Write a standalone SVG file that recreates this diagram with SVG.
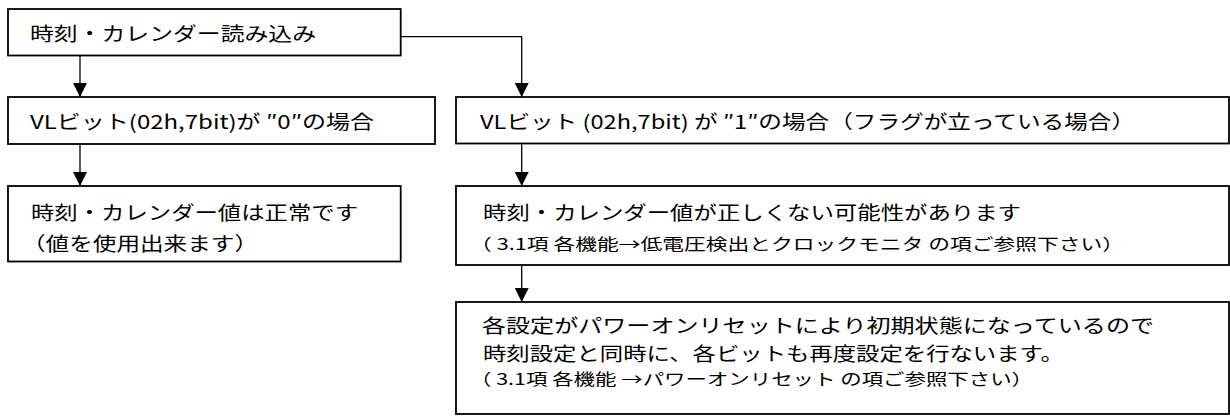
<svg xmlns="http://www.w3.org/2000/svg" width="1230" height="416" viewBox="0 0 1230 416">
<style>
.box{fill:#fff;stroke:#000;stroke-width:1.8}
.t{font-family:"Noto Sans CJK JP","Noto Sans",sans-serif;font-size:19px;fill:#000;dominant-baseline:central}
.s{font-family:"Noto Sans CJK JP","Noto Sans",sans-serif;font-size:16px;fill:#000;dominant-baseline:central}
.ln{fill:none;stroke:#000;stroke-width:1.3}
</style>
<defs>
<marker id="ah" viewBox="0 0 14 14" refX="14" refY="7" markerWidth="14" markerHeight="14" markerUnits="userSpaceOnUse" orient="auto">
<path d="M0,0 L14,7 L0,14 Z" fill="#000"/>
</marker>
</defs>
<g id="connectors">
<path class="ln" d="M80,55.5 V97" marker-end="url(#ah)"/>
<path class="ln" d="M400.7,36.7 H521.7 V97" marker-end="url(#ah)"/>
<path class="ln" d="M80,144 V186" marker-end="url(#ah)"/>
<path class="ln" d="M521.7,143.5 V186" marker-end="url(#ah)"/>
<path class="ln" d="M521.7,265 V302" marker-end="url(#ah)"/>
</g>
<g id="read">
<rect class="box" x="8" y="9" width="392.7" height="46.5"/>
<text class="t" x="30" y="32" textLength="286" lengthAdjust="spacingAndGlyphs">時刻・カレンダー読み込み</text>
</g>
<g id="vl0">
<rect class="box" x="8" y="97" width="427" height="47"/>
<text class="t" x="30" y="120" textLength="344" lengthAdjust="spacingAndGlyphs">VLビット(02h,7bit)が ″0″の場合</text>
</g>
<g id="vl1">
<rect class="box" x="456" y="97" width="773" height="46.5"/>
<text class="t" x="480" y="120" textLength="655" lengthAdjust="spacingAndGlyphs">VLビット (02h,7bit) が ″1″の場合（フラグが立っている場合）</text>
</g>
<g id="normal">
<rect class="box" x="8" y="186" width="392.7" height="75.5"/>
<text class="t" x="31" y="211" textLength="327" lengthAdjust="spacingAndGlyphs">時刻・カレンダー値は正常です</text>
<text class="t" x="22" y="242" textLength="236" lengthAdjust="spacingAndGlyphs">（値を使用出来ます）</text>
</g>
<g id="invalid">
<rect class="box" x="456" y="186" width="773" height="79"/>
<text class="t" x="483" y="211" textLength="538" lengthAdjust="spacingAndGlyphs">時刻・カレンダー値が正しくない可能性があります</text>
<text class="s" x="470" y="243" textLength="654" lengthAdjust="spacingAndGlyphs">（ 3.1項 各機能→低電圧検出とクロックモニタ の項ご参照下さい）</text>
</g>
<g id="reset">
<rect class="box" x="456" y="302" width="773" height="112"/>
<text class="t" x="482" y="324.5" textLength="672" lengthAdjust="spacingAndGlyphs">各設定がパワーオンリセットにより初期状態になっているので</text>
<text class="t" x="483" y="352" textLength="581" lengthAdjust="spacingAndGlyphs">時刻設定と同時に、各ビットも再度設定を行ないます。</text>
<text class="s" x="470" y="377.5" textLength="563" lengthAdjust="spacingAndGlyphs">（ 3.1項 各機能 →パワーオンリセット の項ご参照下さい）</text>
</g>
</svg>
